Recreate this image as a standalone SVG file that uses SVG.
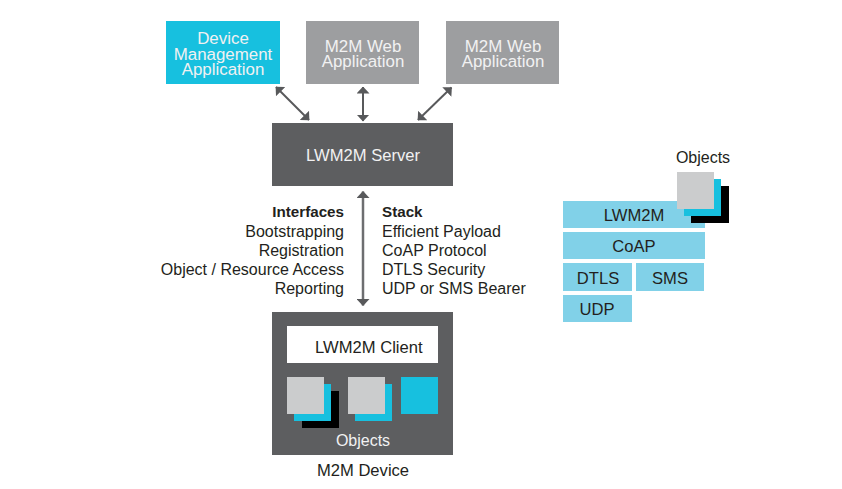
<svg xmlns="http://www.w3.org/2000/svg" width="842" height="489" viewBox="0 0 842 489">
<style>
text{font-family:"Liberation Sans",Arial,sans-serif;font-size:16px;fill:#231f20}
.t{font-size:16.9px}
.s{font-size:16.6px}
.w{fill:#f1f1f2;text-anchor:middle}
.m{text-anchor:middle}
.e{text-anchor:end}
.b{font-weight:bold;font-size:15.2px}
.ln{stroke:#58595b;stroke-width:2;fill:none;marker-start:url(#a);marker-end:url(#a)}
.cy{fill:#17c0df}.gy{fill:#9d9ea0}.dk{fill:#5d5e60}.lt{fill:#cbcccd}.bl{fill:#81d1e8}.k{fill:#000}
</style>
<defs>
<marker id="a" viewBox="0 0 7 13" refX="6.5" refY="6.5" markerWidth="7" markerHeight="13" markerUnits="userSpaceOnUse" orient="auto-start-reverse"><path d="M0 0L7 6.5L0 13Z" fill="#58595b"/></marker>
</defs>
<rect width="842" height="489" fill="#fff"/>
<g id="connectors">
<path class="ln" d="M276 87L309 120"/>
<path class="ln" d="M363 87V121"/>
<path class="ln" d="M451.5 87.5L418 120"/>
<path class="ln" style="stroke:#6d6e70;stroke-width:2.5" d="M363 191.5V305.5"/>
</g>
<g id="device-management"><rect class="cy" x="166" y="21" width="114" height="63"/><text class="w t" x="223" y="44">Device</text><text class="w t" x="223" y="60">Management</text><text class="w t" x="223" y="75">Application</text></g>
<g id="web-app-1"><rect class="gy" x="306" y="21" width="113" height="63"/><text class="w t" x="363" y="52">M2M Web</text><text class="w t" x="363" y="67">Application</text></g>
<g id="web-app-2"><rect class="gy" x="446" y="21" width="113" height="63"/><text class="w t" x="503" y="52">M2M Web</text><text class="w t" x="503" y="67">Application</text></g>
<g id="server"><rect class="dk" x="272" y="123" width="181" height="63"/><text class="w s" x="363" y="161">LWM2M Server</text></g>
<g id="interfaces">
<text class="e b" x="344" y="217">Interfaces</text>
<text class="e" x="344" y="236.5">Bootstrapping</text>
<text class="e" x="344" y="255.5">Registration</text>
<text class="e" x="344" y="274.5">Object / Resource Access</text>
<text class="e" x="344" y="293.5">Reporting</text>
</g>
<g id="stack-labels">
<text class="b" x="382" y="217">Stack</text>
<text x="382" y="236.5">Efficient Payload</text>
<text x="382" y="255.5">CoAP Protocol</text>
<text x="382" y="274.5">DTLS Security</text>
<text x="382" y="293.5">UDP or SMS Bearer</text>
</g>
<g id="device">
<rect class="dk" x="272" y="312" width="181" height="143"/>
<rect x="287" y="326" width="151" height="37" fill="#fff"/>
<text class="s" x="315" y="352.5">LWM2M Client</text>
<rect class="k" x="302" y="391" width="37" height="37"/>
<rect class="cy" x="294" y="384" width="37" height="37"/>
<rect class="lt" x="287" y="377" width="37" height="37"/>
<rect class="cy" x="355" y="384" width="37" height="37"/>
<rect class="lt" x="348" y="377" width="37" height="37"/>
<rect class="cy" x="401" y="377" width="37" height="37"/>
<text class="w" x="363" y="445.5">Objects</text>
</g>
<text id="device-label" class="m s" x="363" y="476">M2M Device</text>
<g id="stack">
<rect class="bl" x="563" y="201" width="142" height="27"/>
<text class="m s" x="634" y="221">LWM2M</text>
<rect class="k" x="691" y="186" width="38" height="37"/>
<rect class="cy" x="684" y="179" width="37" height="37"/>
<rect class="lt" x="677" y="172" width="37" height="37"/>
<text class="m" x="703" y="162.5">Objects</text>
<rect class="bl" x="563" y="232" width="142" height="27"/>
<text class="m s" x="634" y="252">CoAP</text>
<rect class="bl" x="563" y="263" width="69" height="28"/>
<text class="m s" x="598" y="284">DTLS</text>
<rect class="bl" x="636" y="263" width="68" height="28"/>
<text class="m s" x="670" y="284">SMS</text>
<rect class="bl" x="563" y="295" width="69" height="27"/>
<text class="m s" x="597" y="314.5">UDP</text>
</g>
</svg>
